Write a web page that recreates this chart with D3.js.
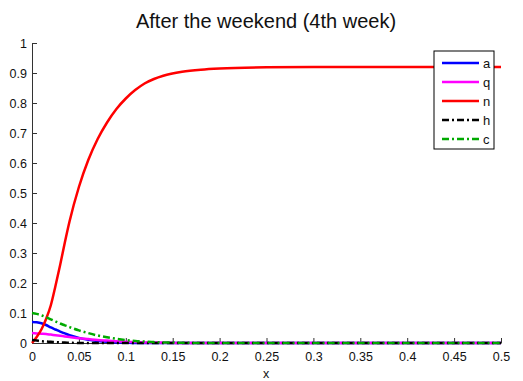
<!DOCTYPE html>
<html><head><meta charset="utf-8">
<script src="https://cdn.jsdelivr.net/npm/d3@7"></script>
<style>body{margin:0;background:#fff}svg{display:block}text{font-family:"Liberation Sans",Arial,sans-serif}</style>
</head><body><svg id="c" width="523" height="381"></svg>
<script>
const xs    = [0,0.005,0.01,0.015,0.02,0.025,0.03,0.035,0.04,0.05,0.06,0.07,0.08,0.09,0.1,0.11,0.12,0.13,0.14,0.16,0.18,0.2,0.25,0.3,0.35,0.4,0.45,0.5];
const aVals = [0.07,0.069,0.066,0.06,0.052,0.045,0.038,0.032,0.026,0.017,0.011,0.007,0.004,0.002,0.001,0,0,0,0,0,0,0,0,0,0,0,0,0];
const qVals = [0.033,0.032,0.031,0.03,0.028,0.026,0.024,0.022,0.02,0.016,0.013,0.01,0.008,0.006,0.004,0.003,0.002,0.0015,0.001,0,0,0,0,0,0,0,0,0];
const nVals = [0,0.02,0.045,0.08,0.125,0.19,0.26,0.335,0.405,0.52,0.61,0.68,0.735,0.78,0.815,0.843,0.865,0.88,0.891,0.904,0.911,0.915,0.919,0.92,0.92,0.92,0.92,0.92];
const hVals = [0.01,0.008,0.006,0.005,0.004,0.003,0.002,0.0015,0.001,0,0,0,0,0,0,0,0,0,0,0,0,0,0,0,0,0,0,0];
const cVals = [0.1,0.097,0.092,0.086,0.079,0.072,0.065,0.059,0.053,0.042,0.033,0.025,0.019,0.014,0.01,0.007,0.005,0.003,0.002,0.001,0,0,0,0,0,0,0,0];
const seriesNames = ["a","q","n","h","c"];
const seriesColors = ["#0000ff","#ff00ff","#ff0000","#000000","#00aa00"];
const seriesDash = [null,null,null,"7,3,2,3","7,3,2,3"];
const seriesData = [aVals,qVals,nVals,hVals,cVals];
const xTicks = [0,0.05,0.1,0.15,0.2,0.25,0.3,0.35,0.4,0.45,0.5];
const yTicks = [0,0.1,0.2,0.3,0.4,0.5,0.6,0.7,0.8,0.9,1];
const title = "After the weekend (4th week)";

const svg = d3.select("#c");
const L=32,R=501,T=43,B=343;
const x = d3.scaleLinear().domain([0,0.5]).range([L,R]);
const y = d3.scaleLinear().domain([0,1]).range([B,T]);

const gx = svg.append("g").attr("transform",`translate(0,${B})`)
  .call(d3.axisBottom(x).tickValues(xTicks).tickSizeInner(-5).tickSizeOuter(0).tickPadding(9).tickFormat(d=>d3.format("")(d)));
const gy = svg.append("g").attr("transform",`translate(${L},0)`)
  .call(d3.axisLeft(y).tickValues(yTicks).tickSizeInner(-5).tickSizeOuter(0).tickPadding(5).tickFormat(d=>d3.format("")(d)));
[gx,gy].forEach(g=>{g.selectAll("path,line").attr("stroke","#333");g.selectAll("text").attr("font-size",12.5).attr("fill","#111").style("font-family","Liberation Sans, Arial, sans-serif");});

const line = d3.line().x((d,i)=>x(xs[i])).y(d=>y(d)).curve(d3.curveMonotoneX);
seriesData.forEach((vals,k)=>{
  svg.append("path").datum(vals).attr("d",line).attr("fill","none")
    .attr("stroke",seriesColors[k]).attr("stroke-width",2.5)
    .attr("stroke-dasharray",seriesDash[k]);
});

svg.append("text").attr("x",266).attr("y",28).attr("text-anchor","middle").attr("font-size",20).attr("fill","#111").text(title);
svg.append("text").attr("x",266).attr("y",378).attr("text-anchor","middle").attr("font-size",12.5).attr("fill","#111").text("x");

const lg = svg.append("g");
lg.append("rect").attr("x",434).attr("y",51).attr("width",60).attr("height",98).attr("fill","#fff").attr("stroke","#000").attr("stroke-width",1);
seriesNames.forEach((nm,k)=>{
  const yy = 63 + k*19;
  lg.append("line").attr("x1",442).attr("x2",479).attr("y1",yy).attr("y2",yy)
    .attr("stroke",seriesColors[k]).attr("stroke-width",2.5).attr("stroke-dasharray",seriesDash[k]);
  lg.append("text").attr("x",483).attr("y",yy+5).attr("font-size",13).attr("fill","#111").text(nm);
});
</script></body></html>
